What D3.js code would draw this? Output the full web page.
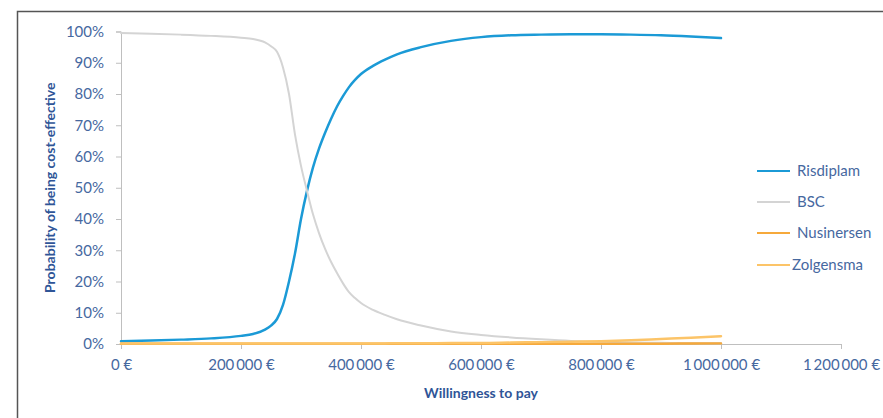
<!DOCTYPE html>
<html>
<head>
<meta charset="utf-8">
<script src="https://cdn.jsdelivr.net/npm/d3@7"></script>
<style>
  html, body { margin: 0; padding: 0; background: #fff; }
  svg { display: block; }
  text { font-family: Lato, "Open Sans", sans-serif; }
</style>
</head>
<body>
<svg id="chart" width="883" height="418"></svg>
<script>
// ---- data ----
const wtp = [0, 50000, 100000, 150000, 200000, 220000, 240000, 250000, 260000, 270000,
  280000, 290000, 300000, 310000, 320000, 330000, 340000, 350000, 360000, 370000,
  380000, 390000, 400000, 420000, 440000, 460000, 500000, 550000, 600000, 650000,
  700000, 750000, 800000, 850000, 900000, 950000, 1000000];
const risdiplam = [0.9, 1.1, 1.4, 1.8, 2.6, 3.2, 4.6, 5.9, 8.0, 12.5,
  20, 29, 40, 49, 56.5, 62.5, 67.5, 72, 76, 79.3,
  82.2, 84.5, 86.4, 89, 91, 92.7, 95, 97, 98.2, 98.8,
  99, 99.1, 99.1, 99, 98.8, 98.4, 97.9];
const bsc = [99.5, 99.3, 99.0, 98.6, 98.0, 97.6, 96.5, 95.3, 93.5, 88.5,
  80, 67, 57, 49, 41.5, 35.5, 30.5, 26.3, 22.7, 19.4,
  16.6, 14.7, 13.1, 10.9, 9.3, 7.9, 5.9, 4.0, 2.9, 2.1,
  1.5, 1.0, 0.7, 0.5, 0.4, 0.3, 0.3];
const nusinersen = [0.1, 0.1, 0.1, 0.1, 0.1, 0.1, 0.1, 0.1, 0.1, 0.1,
  0.1, 0.1, 0.1, 0.1, 0.1, 0.1, 0.1, 0.1, 0.1, 0.1,
  0.1, 0.1, 0.1, 0.1, 0.1, 0.1, 0.1, 0.1, 0.1, 0.1,
  0.1, 0.1, 0.1, 0.1, 0.1, 0.15, 0.2];
const zolgensma = [0.2, 0.2, 0.2, 0.2, 0.2, 0.2, 0.2, 0.2, 0.2, 0.2,
  0.2, 0.2, 0.2, 0.2, 0.2, 0.2, 0.2, 0.2, 0.2, 0.2,
  0.2, 0.2, 0.2, 0.2, 0.2, 0.25, 0.25, 0.3, 0.3, 0.45,
  0.6, 0.75, 0.9, 1.2, 1.6, 2.0, 2.5];
const seriesNames = ["Risdiplam", "BSC", "Nusinersen", "Zolgensma"];
const seriesColors = ["#1b9ad6", "#d4d4d4", "#f6a93b", "#fcc468"];
const xTicks = [0, 200000, 400000, 600000, 800000, 1000000, 1200000];
const yTicks = [0, 10, 20, 30, 40, 50, 60, 70, 80, 90, 100];
const xTitle = "Willingness to pay";
const yTitle = "Probability of being cost-effective";

// ---- layout ----
const svg = d3.select("#chart");
const plot = { left: 121, right: 841, top: 31.5, bottom: 344 };
const labelColor = "#46689f";
const titleColor = "#2f5597";
const axisColor = "#bfbfbf";

// outer frame
svg.append("rect").attr("x", 17.5).attr("y", 11.5).attr("width", 900).attr("height", 500)
  .attr("fill", "none").attr("stroke", "#555").attr("stroke-width", 1.5);

const x = d3.scaleLinear().domain([0, 1200000]).range([plot.left, plot.right]);
const y = d3.scaleLinear().domain([0, 100]).range([plot.bottom, plot.top]);

const fmtEuro = v => (v === 0 ? "0" : d3.format(",")(v).replace(/,/g, "\u2009")) + " €";

// y axis
const yAxis = svg.append("g").attr("transform", `translate(${plot.left},0)`)
  .call(d3.axisLeft(y).tickValues(yTicks).tickSize(5).tickPadding(12).tickFormat(d => d + "%"));
yAxis.select(".domain").attr("stroke", axisColor);
yAxis.selectAll(".tick line").attr("stroke", axisColor);
yAxis.selectAll("text").attr("fill", labelColor).style("font-size", "15px")
  .style("font-family", "Lato, 'Open Sans', sans-serif");

// x axis
const xAxis = svg.append("g").attr("transform", `translate(0,${plot.bottom})`)
  .call(d3.axisBottom(x).tickValues(xTicks).tickSize(5).tickPadding(10).tickFormat(fmtEuro));
xAxis.select(".domain").attr("stroke", axisColor);
xAxis.selectAll(".tick line").attr("stroke", axisColor);
xAxis.selectAll("text").attr("fill", labelColor).style("font-size", "15px")
  .style("font-family", "Lato, 'Open Sans', sans-serif");

// titles
svg.append("text").attr("x", (plot.left + plot.right) / 2).attr("y", 398)
  .attr("text-anchor", "middle").attr("fill", titleColor)
  .style("font-size", "14px").style("font-weight", "bold").text(xTitle);
svg.append("text").attr("transform", `translate(55,${(plot.top + plot.bottom) / 2}) rotate(-90)`)
  .attr("text-anchor", "middle").attr("fill", titleColor)
  .style("font-size", "14px").style("font-weight", "bold").text(yTitle);

// lines
const allSeries = [risdiplam, bsc, nusinersen, zolgensma];
const widths = [2.5, 2, 2.5, 2.5];
const line = d3.line().x((d, i) => x(wtp[i])).y(d => y(d)).curve(d3.curveMonotoneX);
allSeries.forEach((vals, k) => {
  svg.append("path").datum(vals).attr("d", line)
    .attr("fill", "none").attr("stroke", seriesColors[k])
    .attr("stroke-width", widths[k]).attr("stroke-linejoin", "round").attr("stroke-linecap", "round");
});

// legend
const legY = [171, 202, 233, 265];
seriesNames.forEach((name, k) => {
  svg.append("line").attr("x1", 757).attr("x2", 790).attr("y1", legY[k]).attr("y2", legY[k])
    .attr("stroke", seriesColors[k]).attr("stroke-width", 2);
  svg.append("text").attr("x", k === 3 ? 792 : 797).attr("y", legY[k]).attr("dy", "0.35em")
    .attr("fill", labelColor).style("font-size", "15px").text(name);
});
</script>
</body>
</html>
